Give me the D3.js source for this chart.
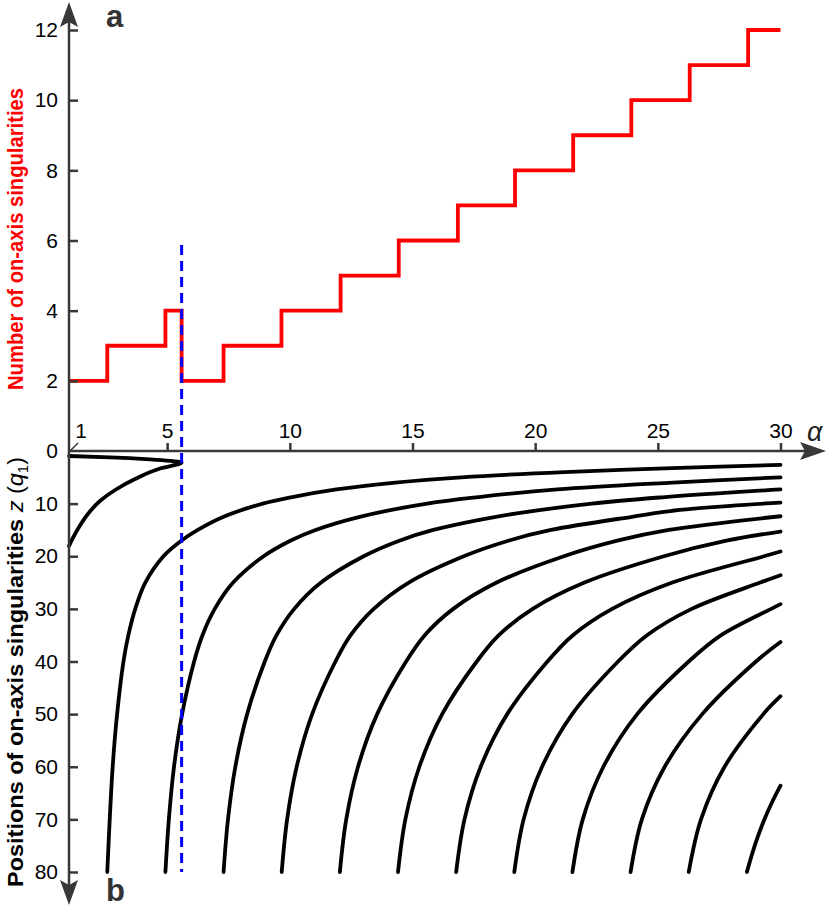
<!DOCTYPE html>
<html><head><meta charset="utf-8">
<script src="https://cdn.jsdelivr.net/npm/d3@7"></script>
<style>html,body{margin:0;padding:0;background:#fff;}svg{display:block;}</style>
</head><body>
<svg id="chart" width="828" height="907"></svg>
<script>
// ---------------- DATA ----------------
const alphaTicks = [5, 10, 15, 20, 25, 30];
const countTicks = [0, 2, 4, 6, 8, 10, 12];
const posTicks = [10, 20, 30, 40, 50, 60, 70, 80];

// step function: number of on-axis singularities vs alpha
const stepAlpha = [1, 2.56, 4.93, 5.59, 7.30, 9.66, 12.07, 14.44, 16.85, 19.18, 21.55, 23.92, 26.30, 28.68, 30];
const stepCount = [2, 3, 4, 2, 3, 4, 5, 6, 7, 8, 9, 10, 11, 12, 12];

const criticalAlpha = 5.59;

// fold pair (listed along z)
const foldZ     = [0.95, 1.2, 1.58, 1.86, 2.2, 3.33, 5.32, 7.41, 9.50, 11.97, 14.44, 16.53, 18.05];
const foldAlpha = [1.0, 2.67, 4.30, 5.12, 5.59, 4.71, 3.69, 2.88, 2.26, 1.77, 1.41, 1.16, 1.0];

// branches coming in from large z (alpha, z)
const branchAlpha = [
  [2.56, 2.66, 2.78, 2.96, 3.22, 3.42, 3.70, 4.11, 4.85, 5.59, 6.25, 7.30, 8.90, 10.1, 11.9, 14.3, 17.0, 21.2, 25.9, 30],
  [4.93, 5.07, 5.28, 5.61, 6.10, 6.44, 6.94, 7.69, 8.93, 10.04, 11.05, 12.85, 15.6, 17.7, 20.9, 25.6, 30],
  [7.30, 7.48, 7.78, 8.26, 8.98, 9.46, 10.18, 11.27, 13.01, 14.49, 15.85, 18.4, 22.3, 25.3, 30],
  [9.67, 9.89, 10.28, 10.91, 11.86, 12.48, 13.42, 14.85, 17.09, 18.94, 20.65, 23.95, 25.9, 30],
  [12.04, 12.30, 12.78, 13.56, 14.74, 15.50, 16.66, 18.43, 21.17, 23.39, 25.45, 30],
  [14.41, 14.71, 15.28, 16.21, 17.62, 18.52, 19.90, 22.01, 25.25, 27.84, 30],
  [16.78, 17.12, 17.78, 18.86, 20.50, 21.54, 23.14, 25.59, 29.33, 30],
  [19.15, 19.53, 20.28, 21.51, 23.38, 24.56, 26.38, 29.17, 30],
  [21.52, 21.94, 22.78, 24.16, 26.26, 27.58, 29.62, 30],
  [23.89, 24.35, 25.28, 26.81, 29.0, 30],
  [26.26, 26.76, 27.72, 29.3, 30],
  [28.63, 28.95, 29.3, 29.65, 30]
];
const branchZ = [
  [80, 70, 60, 50, 40, 35, 30, 25, 20, 17, 15, 12.5, 10, 8.75, 7.3, 6, 5, 4, 3.2, 2.65],
  [80, 70, 60, 50, 40, 35, 30, 25, 20, 17, 15, 12.5, 10, 8.75, 7.3, 6, 5],
  [80, 70, 60, 50, 40, 35, 30, 25, 20, 17, 15, 12.5, 10, 8.75, 7.3],
  [80, 70, 60, 50, 40, 35, 30, 25, 20, 17, 15, 12.5, 11.2, 9.8],
  [80, 70, 60, 50, 40, 35, 30, 25, 20, 17, 15, 12.4],
  [80, 70, 60, 50, 40, 35, 30, 25, 20, 17, 15.3],
  [80, 70, 60, 50, 40, 35, 30, 25, 20, 19.1],
  [80, 70, 60, 50, 40, 35, 30, 25, 23.6],
  [80, 70, 60, 50, 40, 35, 30, 29.1],
  [80, 70, 60, 50, 40, 36.3],
  [80, 70, 60, 50, 46.6],
  [80, 75, 70.5, 66.8, 63.6]
];

// ---------------- DRAW ----------------
const svg = d3.select("#chart");
const axisColor = "#383838";

const x = d3.scaleLinear().domain([1, 30]).range([69, 780.5]);
const yTop = d3.scaleLinear().domain([0, 12]).range([451, 30]);
const yBot = d3.scaleLinear().domain([0, 80]).range([451, 872]);

// branches
const lineBranch = d3.line().x(d => x(d[0])).y(d => yBot(d[1])).curve(d3.curveCatmullRom.alpha(0.5));
branchAlpha.forEach((arr, i) => {
  const pts = arr.map((a, j) => [a, branchZ[i][j]]);
  svg.append("path").attr("d", lineBranch(pts))
    .attr("fill", "none").attr("stroke", "#000").attr("stroke-width", 3.8)
    .attr("stroke-linecap", "round");
});
// fold pair
const lineFold = d3.line().x(d => x(d[0])).y(d => yBot(d[1])).curve(d3.curveMonotoneY);
svg.append("path").attr("d", lineFold(foldAlpha.map((a, j) => [a, foldZ[j]])))
  .attr("fill", "none").attr("stroke", "#000").attr("stroke-width", 3.8)
  .attr("stroke-linecap", "round");

// step function
const stepLine = d3.line().x(d => x(d[0])).y(d => yTop(d[1])).curve(d3.curveStepAfter);
svg.append("path").attr("d", stepLine(stepAlpha.map((a, j) => [a, stepCount[j]])))
  .attr("fill", "none").attr("stroke", "#ff0000").attr("stroke-width", 3.8);

// critical dashed line
svg.append("line")
  .attr("x1", x(criticalAlpha)).attr("x2", x(criticalAlpha))
  .attr("y1", 245).attr("y2", yBot(80))
  .attr("stroke", "#0000ff").attr("stroke-width", 3).attr("stroke-dasharray", "10,6");

// axis lines and arrows
svg.append("line").attr("x1", 69).attr("x2", 69).attr("y1", 18).attr("y2", 888)
  .attr("stroke", axisColor).attr("stroke-width", 2.5);
svg.append("line").attr("x1", 69).attr("x2", 808).attr("y1", 451).attr("y2", 451)
  .attr("stroke", axisColor).attr("stroke-width", 2.5);
svg.append("path").attr("d", "M69,2 L78,27 L69,22 L60,27 Z").attr("fill", axisColor);
svg.append("path").attr("d", "M69,905 L78,880 L69,885 L60,880 Z").attr("fill", axisColor);
svg.append("path").attr("d", "M826,451 L800,442 L805,451 L800,460 Z").attr("fill", axisColor);
svg.append("line").attr("x1", 70).attr("y1", 451).attr("x2", 78).attr("y2", 443)
  .attr("stroke", axisColor).attr("stroke-width", 1.6);

const fontMain = "Liberation Sans, Arial, Helvetica, sans-serif";

function styleAxis(g) {
  g.select(".domain").remove();
  g.selectAll(".tick line").attr("stroke", axisColor).attr("stroke-width", 2.5);
  g.selectAll(".tick text").attr("fill", "#000").attr("font-size", 21).attr("font-family", fontMain);
}
svg.append("g").attr("transform", "translate(69,0)")
  .call(d3.axisLeft(yTop).tickValues(countTicks).tickSizeInner(-9).tickSizeOuter(0).tickPadding(11))
  .call(styleAxis)
  .call(g => g.selectAll(".tick").filter(d => d === 0).select("line").remove());
svg.append("g").attr("transform", "translate(69,0)")
  .call(d3.axisLeft(yBot).tickValues(posTicks).tickSizeInner(-9).tickSizeOuter(0).tickPadding(11))
  .call(styleAxis);
svg.append("g").attr("transform", "translate(0,451)")
  .call(d3.axisTop(x).tickValues(alphaTicks).tickSizeInner(8).tickSizeOuter(0).tickPadding(5))
  .call(styleAxis);
svg.append("text").attr("x", 81).attr("y", 438).attr("text-anchor", "middle")
  .attr("font-size", 21).attr("font-family", fontMain).text("1");

// alpha symbol
svg.append("text").attr("x", 807).attr("y", 441).attr("font-size", 27)
  .attr("font-style", "italic").attr("font-family", fontMain).attr("fill", "#222").text("α");

// panel letters
svg.append("text").attr("x", 106).attr("y", 27).attr("font-size", 31).attr("font-weight", "bold")
  .attr("font-family", fontMain).attr("fill", "#333").text("a");
svg.append("text").attr("x", 106).attr("y", 901).attr("font-size", 31).attr("font-weight", "bold")
  .attr("font-family", fontMain).attr("fill", "#333").text("b");

// axis titles
const narrow = "'Liberation Sans Narrow', 'Arial Narrow', 'Liberation Sans', Arial, sans-serif";
svg.append("text")
  .attr("transform", "translate(23,239) rotate(-90)")
  .attr("text-anchor", "middle").attr("font-size", 22).attr("font-weight", "bold")
  .attr("font-family", narrow).attr("fill", "#ff0000")
  .attr("textLength", 302).attr("lengthAdjust", "spacingAndGlyphs")
  .text("Number of on-axis singularities");

const t2 = svg.append("text")
  .attr("transform", "translate(23,672) rotate(-90)")
  .attr("text-anchor", "middle").attr("font-size", 22).attr("font-weight", "bold")
  .attr("font-family", narrow).attr("fill", "#000")
  .attr("textLength", 430).attr("lengthAdjust", "spacingAndGlyphs");
t2.append("tspan").text("Positions of on-axis singularities ");
t2.append("tspan").attr("font-style", "italic").attr("font-weight", "normal").attr("font-family", fontMain).text("z");
t2.append("tspan").attr("font-weight", "normal").attr("font-family", fontMain).text(" (");
t2.append("tspan").attr("font-style", "italic").attr("font-weight", "normal").attr("font-family", fontMain).text("q");
t2.append("tspan").attr("font-weight", "normal").attr("font-family", fontMain).attr("font-size", 14).attr("dy", 5).text("1");
t2.append("tspan").attr("font-weight", "normal").attr("font-family", fontMain).attr("dy", -5).text(")");
</script>
</body></html>
